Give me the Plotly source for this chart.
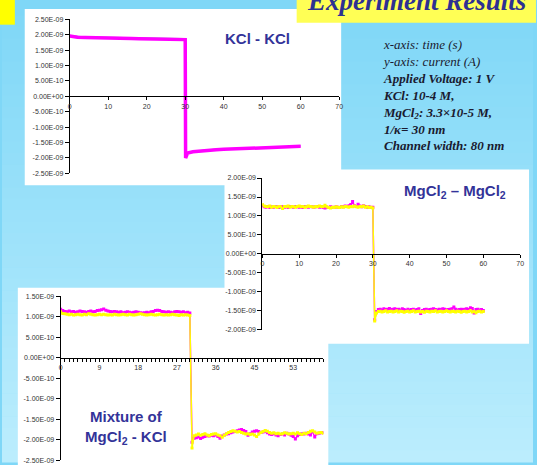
import plotly.graph_objects as go

W, H = 537, 465

# ---------------- data (currents in nA, converted to A for plotting) ----------------
# Panel 1: KCl - KCl
kcl_t = [0, 2, 4, 6, 8, 10, 12, 14, 16, 18, 20, 22, 24, 26, 28, 30, 30.1, 30.6,
         32, 34, 36, 38, 40, 42, 44, 46, 48, 50, 52, 54, 56, 58, 60]
kcl_magenta = [1.96, 1.92, 1.91, 1.90, 1.895, 1.89, 1.885, 1.88, 1.875, 1.87, 1.865, 1.86,
               1.855, 1.85, 1.845, 1.84, -2.00, -1.84,
               -1.80, -1.77, -1.75, -1.73, -1.72, -1.71, -1.70, -1.69, -1.68, -1.67,
               -1.66, -1.65, -1.64, -1.63, -1.62]
kcl_blue = [1.97, 1.94, 1.93, 1.925, 1.92, 1.915, 1.91, 1.905, 1.90, 1.895, 1.89, 1.89,
            1.885, 1.88, 1.88, 1.875, -1.95, -1.82,
            -1.78, -1.75, -1.73, -1.71, -1.70, -1.69, -1.68, -1.67, -1.66, -1.65,
            -1.645, -1.64, -1.63, -1.62, -1.61]

# Panel 2: MgCl2 - MgCl2 (samples every 0.5 s)
mg_magenta = [1.27, 1.24, 1.23, 1.25, 1.22, 1.24, 1.23, 1.25, 1.24, 1.22,
              1.24, 1.25, 1.23, 1.24, 1.22, 1.25, 1.24, 1.23, 1.25, 1.24,
              1.23, 1.24, 1.22, 1.25, 1.24, 1.23, 1.25, 1.24, 1.23, 1.24,
              1.25, 1.23, 1.24, 1.22, 1.21, 1.23, 1.22, 1.24, 1.23, 1.22,
              1.24, 1.23, 1.22, 1.25, 1.24, 1.26, 1.25, 1.27, 1.30, 1.38,
              1.27, 1.25, 1.31, 1.26, 1.24, 1.27, 1.25, 1.23, 1.24, 1.22, 1.23,
              -1.74,
              -1.52, -1.47, -1.46, -1.48, -1.45, -1.47, -1.46, -1.44, -1.47, -1.46,
              -1.45, -1.47, -1.46, -1.48, -1.45, -1.47, -1.49, -1.46, -1.48, -1.47,
              -1.46, -1.48, -1.47, -1.45, -1.57, -1.49, -1.47, -1.46, -1.48, -1.47,
              -1.46, -1.45, -1.47, -1.48, -1.46, -1.47, -1.45, -1.46, -1.48, -1.47,
              -1.46, -1.45, -1.40, -1.46, -1.48, -1.47, -1.46, -1.47, -1.46, -1.45,
              -1.47, -1.42, -1.44, -1.56, -1.47, -1.46, -1.48, -1.47, -1.49]
mg_yellow = [1.30, 1.26, 1.25, 1.24, 1.26, 1.23, 1.25, 1.24, 1.22, 1.25,
             1.24, 1.20, 1.25, 1.24, 1.26, 1.23, 1.25, 1.24, 1.23, 1.25,
             1.26, 1.24, 1.25, 1.23, 1.24, 1.26, 1.25, 1.24, 1.23, 1.25,
             1.24, 1.26, 1.25, 1.24, 1.28, 1.24, 1.22, 1.21, 1.23, 1.22,
             1.24, 1.23, 1.22, 1.24, 1.23, 1.25, 1.24, 1.23, 1.25, 1.24,
             1.26, 1.24, 1.23, 1.25, 1.24, 1.26, 1.23, 1.24, 1.22, 1.23, 1.21,
             -1.77,
             -1.56, -1.52, -1.51, -1.53, -1.52, -1.50, -1.53, -1.52, -1.51, -1.53,
             -1.52, -1.50, -1.53, -1.51, -1.52, -1.54, -1.52, -1.51, -1.53, -1.52,
             -1.50, -1.53, -1.52, -1.51, -1.53, -1.52, -1.54, -1.51, -1.52, -1.53,
             -1.51, -1.52, -1.50, -1.53, -1.52, -1.51, -1.53, -1.52, -1.50, -1.52,
             -1.53, -1.51, -1.52, -1.53, -1.51, -1.52, -1.54, -1.52, -1.51, -1.53,
             -1.52, -1.50, -1.53, -1.52, -1.55, -1.52, -1.51, -1.53, -1.52]

# Panel 3: Mixture of MgCl2 - KCl (samples every 0.5 s)
mix_magenta = [1.18, 1.15, 1.13, 1.12, 1.14, 1.12, 1.13, 1.11, 1.12, 1.14,
               1.13, 1.12, 1.11, 1.13, 1.14, 1.12, 1.13, 1.15, 1.16, 1.17,
               1.19, 1.16, 1.14, 1.13, 1.12, 1.13, 1.12, 1.11, 1.12, 1.10,
               1.11, 1.12, 1.11, 1.10, 1.11, 1.12, 1.11, 1.10, 1.09, 1.10,
               1.11, 1.10, 1.12, 1.13, 1.15, 1.16, 1.15, 1.13, 1.12, 1.11,
               1.12, 1.11, 1.10, 1.12, 1.13, 1.12, 1.11, 1.12, 1.10, 1.11, 1.09,
               -2.06, -1.96, -1.95, -1.93, -1.97, -1.94, -1.92, -1.90, -1.91, -1.89,
               -1.90, -1.88, -1.92, -1.96, -1.91, -1.88, -1.86, -1.85, -1.83, -1.81,
               -1.80, -1.78, -1.76, -1.75, -1.77, -1.80, -1.89, -1.85, -1.81, -1.79,
               -1.78, -1.80, -1.82, -1.81, -1.79, -1.83, -1.86, -1.87, -1.85, -1.88,
               -1.90, -1.87, -1.86, -1.88, -1.84, -1.86, -1.89, -1.92, -1.98, -1.90,
               -1.87, -1.85, -1.86, -1.84, -1.86, -1.88, -1.80, -1.93, -1.85, -1.84,
               -1.83, -1.82]
mix_yellow = [1.12, 1.08, 1.07, 1.06, 1.05, 1.06, 1.04, 1.05, 1.06, 1.05,
              1.04, 1.06, 1.05, 1.07, 1.06, 1.05, 1.04, 1.05, 1.06, 1.05,
              1.06, 1.05, 1.04, 1.05, 1.04, 1.06, 1.05, 1.04, 1.05, 1.06,
              1.05, 1.04, 1.06, 1.05, 1.04, 1.05, 1.06, 1.07, 1.06, 1.05,
              1.04, 1.05, 1.06, 1.05, 1.04, 1.05, 1.06, 1.05, 1.04, 1.05,
              1.04, 1.05, 1.06, 1.05, 1.04, 1.03, 1.05, 1.04, 1.05, 1.04, 1.03,
              -2.20, -1.90, -1.88, -1.86, -1.89, -1.87, -1.85, -1.88, -1.90, -1.87,
              -1.86, -1.85, -1.88, -1.90, -1.94, -1.89, -1.85, -1.82, -1.80, -1.78,
              -1.79, -1.81, -1.80, -1.82, -1.84, -1.86, -1.85, -1.87, -1.86, -1.88,
              -1.92, -1.86, -1.82, -1.80, -1.77, -1.79, -1.82, -1.84, -1.83, -1.85,
              -1.84, -1.86, -1.85, -1.83, -1.84, -1.86, -1.85, -1.84, -1.86, -1.83,
              -1.85, -1.87, -1.84, -1.85, -1.82, -1.79, -1.78, -1.81, -1.84, -1.83,
              -1.82, -1.84]

# tick labels
p1_yticks = ["2.50E-09", "2.00E-09", "1.50E-09", "1.00E-09", "5.00E-10", "0.00E+00",
             "-5.00E-10", "-1.00E-09", "-1.50E-09", "-2.00E-09", "-2.50E-09"]
p1_xticks = ["0", "10", "20", "30", "40", "50", "60", "70"]
p2_yticks = ["2.00E-09", "1.50E-09", "1.00E-09", "5.00E-10", "0.00E+00",
             "-5.00E-10", "-1.00E-09", "-1.50E-09", "-2.00E-09"]
p2_xticks = ["0", "10", "20", "30", "40", "50", "60", "70"]
p3_yticks = ["1.50E-09", "1.00E-09", "5.00E-10", "0.00E+00", "-5.00E-10",
             "-1.00E-09", "-1.50E-09", "-2.00E-09", "-2.50E-09"]
p3_xtick_pos = [0, 9, 18, 27, 36, 45, 54]
p3_xtick_text = ["0", "9", "18", "27", "36", "45", "53"]


def amps(vals):
    return [v * 1e-9 for v in vals]


def times(vals, step):
    return [i * step for i in range(len(vals))]


# ---------------- helpers for pixel layout ----------------
def px(x):
    return x / W


def py(y):
    return 1 - y / H


MAGENTA = "#ff00ff"
YELLOW = "#ffff00"
TICKFONT = dict(family="Liberation Sans, Arial", size=7, color="#333333")

fig = go.Figure()

# Panel 1
fig.add_trace(go.Scatter(x=kcl_t, y=amps(kcl_blue), mode="lines",
                         line=dict(color="#7f7fc8", width=1), xaxis="x", yaxis="y"))
fig.add_trace(go.Scatter(x=kcl_t, y=amps(kcl_magenta), mode="lines",
                         line=dict(color=MAGENTA, width=3.5), xaxis="x", yaxis="y"))
# Panel 2
fig.add_trace(go.Scatter(x=times(mg_magenta, 0.5), y=amps(mg_magenta), mode="lines+markers",
                         line=dict(color=MAGENTA, width=1.5),
                         marker=dict(symbol="square", size=3, color=MAGENTA),
                         xaxis="x2", yaxis="y2"))
fig.add_trace(go.Scatter(x=times(mg_yellow, 0.5), y=amps(mg_yellow), mode="lines+markers",
                         line=dict(color=YELLOW, width=1.5),
                         marker=dict(symbol="square", size=3, color=YELLOW),
                         xaxis="x2", yaxis="y2"))
# Panel 3
fig.add_trace(go.Scatter(x=times(mix_magenta, 0.5), y=amps(mix_magenta), mode="lines+markers",
                         line=dict(color=MAGENTA, width=1.5),
                         marker=dict(symbol="square", size=3, color=MAGENTA),
                         xaxis="x3", yaxis="y3"))
fig.add_trace(go.Scatter(x=times(mix_yellow, 0.5), y=amps(mix_yellow), mode="lines+markers",
                         line=dict(color=YELLOW, width=1.5),
                         marker=dict(symbol="square", size=3, color=YELLOW),
                         xaxis="x3", yaxis="y3"))


def yaxis_cfg(dom, rng, labels, anchor):
    return dict(domain=dom, range=rng, anchor=anchor,
                tickmode="array", tickvals=[float(s) for s in labels], ticktext=labels,
                showline=True, linecolor="black", linewidth=1,
                ticks="outside", ticklen=4, tickcolor="black", tickwidth=1,
                showgrid=False, zeroline=False, tickfont=TICKFONT, fixedrange=True)


def xaxis_cfg(dom, rng, ydom, yrng, tickpos, ticktext):
    zero = ydom[0] + (0 - yrng[0]) / (yrng[1] - yrng[0]) * (ydom[1] - ydom[0])
    return dict(domain=dom, range=rng, anchor="free", position=zero,
                tickmode="array", tickvals=tickpos, ticktext=ticktext,
                showline=True, linecolor="black", linewidth=1.2,
                ticks="outside", ticklen=3, tickcolor="black", tickwidth=1,
                showgrid=False, zeroline=False, tickfont=TICKFONT, fixedrange=True)


p1_xd = [px(68.5), px(341)]
p1_yd = [py(172), py(15.5)]
p1_yr = [-2.5e-9, 2.5e-9]
p2_xd = [px(263.3), px(524)]
p2_yd = [py(330.7), py(176.7)]
p2_yr = [-2e-9, 2e-9]
p3_xd = [px(59.3), px(325)]
p3_yd = [py(463.3), py(296.7)]
p3_yr = [-2.5e-9, 1.5e-9]

x3 = xaxis_cfg(p3_xd, [0, 61], p3_yd, p3_yr, p3_xtick_pos, p3_xtick_text)
x3["minor"] = dict(dtick=1, tick0=0, ticks="outside", ticklen=3, tickcolor="black", showgrid=False)

fig.update_layout(
    width=W, height=H, margin=dict(l=0, r=0, t=0, b=0),
    paper_bgcolor="#7fd7f7", plot_bgcolor="rgba(0,0,0,0)",
    showlegend=False,
    xaxis=xaxis_cfg(p1_xd, [0, 70], p1_yd, p1_yr, [float(s) for s in p1_xticks], p1_xticks),
    yaxis=yaxis_cfg(p1_yd, p1_yr, p1_yticks, "x"),
    xaxis2=xaxis_cfg(p2_xd, [0, 70], p2_yd, p2_yr, [float(s) for s in p2_xticks], p2_xticks),
    yaxis2=yaxis_cfg(p2_yd, p2_yr, p2_yticks, "x2"),
    xaxis3=x3,
    yaxis3=yaxis_cfg(p3_yd, p3_yr, p3_yticks, "x3"),
)

# ---------------- background: vertical gradient + white panels ----------------
shapes = []
top = (127, 215, 247)
bot = (187, 237, 253)
n = 40
for i in range(n):
    f = i / (n - 1)
    c = tuple(round(top[k] + (bot[k] - top[k]) * f) for k in range(3))
    shapes.append(dict(type="rect", xref="paper", yref="paper", layer="below",
                       x0=0, x1=1, y0=py(H * (i + 1) / n + 0.5), y1=py(H * i / n),
                       fillcolor="rgb(%d,%d,%d)" % c, line=dict(width=0)))
for (x0, y0, x1, y1) in [(23, 5, 343, 184), (16, 288, 330, 470), (225, 168, 533, 345)]:
    shapes.append(dict(type="rect", xref="paper", yref="paper", layer="below",
                       x0=px(x0), x1=px(x1), y0=py(y1), y1=py(y0),
                       fillcolor="white", line=dict(width=0)))
# yellow title bar and corner square
shapes.append(dict(type="rect", xref="paper", yref="paper", layer="above",
                   x0=px(298), x1=px(540), y0=py(19), y1=py(-5),
                   fillcolor="#ffff55", line=dict(width=0)))
shapes.append(dict(type="rect", xref="paper", yref="paper", layer="above",
                   x0=px(-2), x1=px(13), y0=py(21), y1=py(-5),
                   fillcolor="#ffff00", line=dict(width=0)))
fig.update_layout(shapes=shapes)

LABEL = dict(family="Liberation Sans, Arial", size=15, color="#333399")
SERIF = "Liberation Serif, Times New Roman"
annotations = [
    dict(text="<b><i>Experiment Results</i></b>", x=px(419), y=py(14), xanchor="center",
         yanchor="bottom", showarrow=False, xref="paper", yref="paper",
         font=dict(family=SERIF, size=27, color="#2e3192")),
    dict(text="<b>KCl - KCl</b>", x=px(258), y=py(35), xanchor="center", yanchor="middle",
         showarrow=False, xref="paper", yref="paper", font=LABEL),
    dict(text="<b>MgCl<sub>2</sub> – MgCl<sub>2</sub></b>", x=px(458), y=py(190),
         xanchor="center", yanchor="middle", showarrow=False, xref="paper", yref="paper",
         font=LABEL),
    dict(text="<b>Mixture of<br>MgCl<sub>2</sub> - KCl</b>", x=px(125), y=py(430),
         xanchor="center", yanchor="middle", showarrow=False, xref="paper", yref="paper",
         font=LABEL, align="center"),
    dict(text=("<i>x-axis: time (s)</i><br>"
               "<i>y-axis: current (A)</i><br>"
               "<b><i>Applied Voltage: 1 V</i></b><br>"
               "<b><i>KCl: 10-4 M,</i></b><br>"
               "<b><i>MgCl<sub>2</sub>: 3.3×10-5 M,</i></b><br>"
               "<b><i>1/κ= 30 nm</i></b><br>"
               "<b><i>Channel width: 80 nm</i></b>"),
         x=px(382), y=py(31), xanchor="left", yanchor="top", align="left",
         showarrow=False, xref="paper", yref="paper",
         font=dict(family=SERIF, size=13, color="#1a1a30")),
]
fig.update_layout(annotations=annotations)

fig.write_html("out.html", config={"displayModeBar": False},
               post_script="document.body.style.margin='0';document.body.style.overflow='hidden';")
